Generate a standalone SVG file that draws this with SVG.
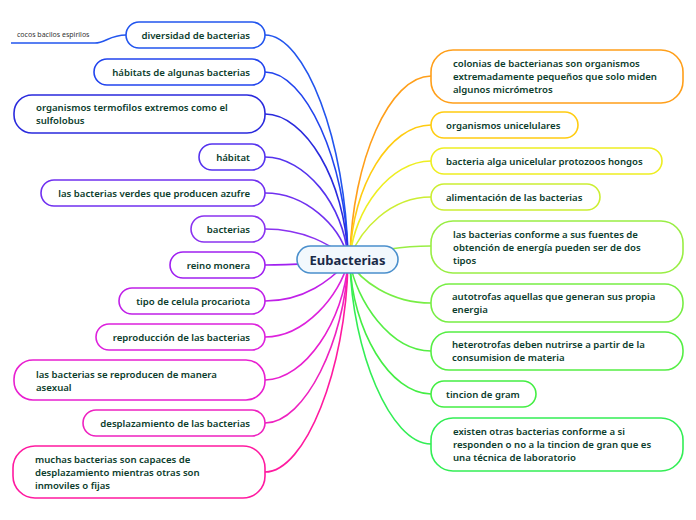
<svg xmlns="http://www.w3.org/2000/svg" width="696" height="520" viewBox="0 0 696 520">
<style>
.n{fill:#fff;stroke-width:1.6}
.t{font-family:"Noto Sans","Open Sans",sans-serif;font-size:9.6px;font-weight:600;fill:#0b3d2c}
.e{text-anchor:end}
.c{fill:none;stroke-width:1.6}
</style>
<rect width="696" height="520" fill="#fff"/>
<g id="connectors">
<path class="c" stroke="#2255ee" d="M265,35 C305,35 346,140 348,258"/>
<path class="c" stroke="#2244ee" d="M265,72 C305,72 346,160 348,258"/>
<path class="c" stroke="#2a2add" d="M265,114 C305,114 345,180 348,258"/>
<path class="c" stroke="#5533ee" d="M265,157 C305,157 344,205 348,258"/>
<path class="c" stroke="#7030f0" d="M265,193 C305,193 340,225 348,258"/>
<path class="c" stroke="#8a33f0" d="M265,229 C305,229 330,245 348,258"/>
<path class="c" stroke="#a020f0" d="M265,265 C300,265 320,262 348,262"/>
<path class="c" stroke="#c020e8" d="M265,301 C305,301 330,280 348,262"/>
<path class="c" stroke="#dd22dd" d="M265,337 C305,337 340,295 348,262"/>
<path class="c" stroke="#e81fd0" d="M265,380 C305,380 344,320 348,262"/>
<path class="c" stroke="#ee22c0" d="M265,423 C305,423 345,340 348,262"/>
<path class="c" stroke="#ff1aa0" d="M265,472 C305,472 346,370 348,262"/>
<path class="c" stroke="#ff9f1a" d="M431,76 C390,76 352,160 350,258"/>
<path class="c" stroke="#ffcc11" d="M431,125 C390,125 352,185 350,258"/>
<path class="c" stroke="#eeee22" d="M431,161 C390,161 354,210 350,258"/>
<path class="c" stroke="#ccee33" d="M431,197 C390,197 360,230 350,258"/>
<path class="c" stroke="#99ee44" d="M431,246 C400,246 380,250 350,258"/>
<path class="c" stroke="#77ee44" d="M431,303 C390,303 360,280 350,262"/>
<path class="c" stroke="#55ee44" d="M431,351 C390,351 356,300 350,262"/>
<path class="c" stroke="#44ee44" d="M431,394 C390,394 352,330 350,262"/>
<path class="c" stroke="#33ee55" d="M431,444 C390,444 352,350 350,262"/>
<path class="c" stroke="#2255ee" d="M126,35 C110,35 105,43 95,43 L11,43"/>
</g>
<text x="17" y="37" style="font-family:'Noto Sans',sans-serif;font-size:7px;fill:#333">cocos bacilos espirilos</text>
<g id="center">
<rect x="297" y="246" width="101" height="27" rx="13.5" fill="#f2f8fd" stroke="#4a8fcc" stroke-width="1.6"/>
<text x="347.5" y="264.5" text-anchor="middle" style="font-family:'Noto Sans',sans-serif;font-size:13px;font-weight:700;fill:#1a2a48">Eubacterias</text>
</g>
<g id="l1"><rect class="n" stroke="#2255ee" x="126" y="22" width="139" height="26" rx="13"/><text class="t e" x="250" y="38.5">diversidad de bacterias</text></g>
<g id="l2"><rect class="n" stroke="#2244ee" x="94" y="59" width="171" height="26" rx="13"/><text class="t e" x="250" y="75.5">hábitats de algunas bacterias</text></g>
<g id="l3"><rect class="n" stroke="#2a2add" x="14" y="95" width="251" height="38" rx="18"/><text class="t" x="36" y="111">organismos termofilos extremos como el</text><text class="t" x="36" y="124">sulfolobus</text></g>
<g id="l4"><rect class="n" stroke="#5533ee" x="199" y="144" width="66" height="26" rx="13"/><text class="t e" x="250" y="160.5">hábitat</text></g>
<g id="l5"><rect class="n" stroke="#7030f0" x="41" y="180" width="224" height="26" rx="13"/><text class="t e" x="250" y="196.5">las bacterias verdes que producen azufre</text></g>
<g id="l6"><rect class="n" stroke="#8a33f0" x="191" y="216" width="74" height="26" rx="13"/><text class="t e" x="250" y="232.5">bacterias</text></g>
<g id="l7"><rect class="n" stroke="#a020f0" x="170" y="252" width="95" height="26" rx="13"/><text class="t e" x="250" y="268.5">reino monera</text></g>
<g id="l8"><rect class="n" stroke="#c020e8" x="119" y="288" width="146" height="26" rx="13"/><text class="t e" x="250" y="304.5">tipo de celula procariota</text></g>
<g id="l9"><rect class="n" stroke="#dd22dd" x="96" y="324" width="169" height="26" rx="13"/><text class="t e" x="250" y="340.5">reproducción de las bacterias</text></g>
<g id="l10"><rect class="n" stroke="#e81fd0" x="14" y="360" width="251" height="40" rx="19"/><text class="t" x="36" y="378">las bacterias se reproducen de manera</text><text class="t" x="36" y="391">asexual</text></g>
<g id="l11"><rect class="n" stroke="#ee22c0" x="83" y="410" width="182" height="26" rx="13"/><text class="t e" x="250" y="426.5">desplazamiento de las bacterias</text></g>
<g id="l12"><rect class="n" stroke="#ff1aa0" x="13" y="446" width="252" height="52" rx="22"/><text class="t" x="35" y="463">muchas bacterias son capaces de</text><text class="t" x="35" y="476">desplazamiento mientras otras son</text><text class="t" x="35" y="489">inmoviles o fijas</text></g>
<g id="r1"><rect class="n" stroke="#ff9f1a" x="431" y="50" width="252" height="53" rx="22"/><text class="t" x="453" y="67">colonias de bacterianas son organismos</text><text class="t" x="453" y="80">extremadamente pequeños que solo miden</text><text class="t" x="453" y="93">algunos micrómetros</text></g>
<g id="r2"><rect class="n" stroke="#ffcc11" x="431" y="112" width="147" height="26" rx="13"/><text class="t" x="446" y="128.5">organismos unicelulares</text></g>
<g id="r3"><rect class="n" stroke="#eeee22" x="431" y="148" width="231" height="26" rx="13"/><text class="t" x="446" y="164.5">bacteria alga unicelular protozoos hongos</text></g>
<g id="r4"><rect class="n" stroke="#ccee33" x="431" y="184" width="169" height="26" rx="13"/><text class="t" x="446" y="200.5">alimentación de las bacterias</text></g>
<g id="r5"><rect class="n" stroke="#99ee44" x="431" y="221" width="252" height="52" rx="22"/><text class="t" x="453" y="238">las bacterias conforme a sus fuentes de</text><text class="t" x="453" y="251">obtención de energía pueden ser de dos</text><text class="t" x="453" y="264">tipos</text></g>
<g id="r6"><rect class="n" stroke="#77ee44" x="431" y="284" width="252" height="38" rx="18"/><text class="t" x="452" y="300">autotrofas aquellas que generan sus propia</text><text class="t" x="452" y="313">energia</text></g>
<g id="r7"><rect class="n" stroke="#55ee44" x="431" y="332" width="252" height="38" rx="18"/><text class="t" x="452" y="348">heterotrofas deben nutrirse a partir de la</text><text class="t" x="452" y="361">consumision  de materia</text></g>
<g id="r8"><rect class="n" stroke="#44ee44" x="431" y="381" width="105" height="26" rx="13"/><text class="t" x="446" y="397.5">tincion de gram</text></g>
<g id="r9"><rect class="n" stroke="#33ee55" x="431" y="418" width="252" height="53" rx="22"/><text class="t" x="453" y="435">existen otras bacterias conforme a si</text><text class="t" x="453" y="448">responden o no a la tincion de gran que es</text><text class="t" x="453" y="461">una técnica de laboratorio</text></g>
</svg>
